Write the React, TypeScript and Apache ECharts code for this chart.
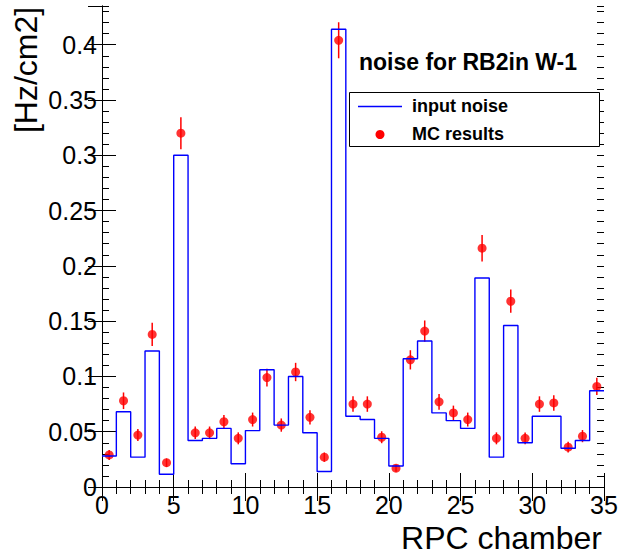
import React, { useEffect, useRef } from "react";
import * as echarts from "echarts";

const inputNoise = [0.028, 0.068, 0.027, 0.123, 0.0115, 0.300, 0.042, 0.044, 0.053, 0.021, 0.051, 0.106, 0.056, 0.100, 0.049, 0.014, 0.414, 0.064, 0.061, 0.044, 0.019, 0.116, 0.132, 0.067, 0.060, 0.053, 0.189, 0.027, 0.146, 0.040, 0.064, 0.064, 0.035, 0.042, 0.087];
const mcResults = [0.029, 0.078, 0.047, 0.138, 0.022, 0.320, 0.049, 0.049, 0.059, 0.044, 0.061, 0.099, 0.056, 0.104, 0.063, 0.027, 0.404, 0.075, 0.075, 0.045, 0.017, 0.115, 0.141, 0.077, 0.067, 0.061, 0.216, 0.044, 0.168, 0.044, 0.075, 0.076, 0.036, 0.046, 0.091];
const mcErrors = [0.0045, 0.0075, 0.0055, 0.0105, 0.0038, 0.0145, 0.0057, 0.0057, 0.0062, 0.0054, 0.0063, 0.008, 0.006, 0.0083, 0.0064, 0.0042, 0.0163, 0.007, 0.007, 0.0054, 0.0033, 0.0087, 0.0096, 0.0071, 0.0066, 0.0063, 0.012, 0.0054, 0.0105, 0.0054, 0.007, 0.007, 0.0049, 0.0055, 0.0077];

const titleText = "noise for RB2in W-1";
const xTitle = "RPC chamber";
const yTitle = "[Hz/cm2]";
const legendNames = ["input noise", "MC results"];

const FONT = '"Liberation Sans", Arial, Helvetica, sans-serif';

export default function App() {
  const ref = useRef<HTMLDivElement>(null);
  useEffect(() => {
    document.body.style.margin = "0";
    const chart = echarts.init(ref.current!, null, { renderer: "svg" });
    const stepData: number[][] = inputNoise.map((v, i) => [i, v]);
    stepData.push([inputNoise.length, inputNoise[inputNoise.length - 1]]);
    const pts = mcResults.map((v, i) => [i + 0.5, v]);
    const errData = mcResults.map((v, i) => [i + 0.5, v - mcErrors[i], v + mcErrors[i]]);

    const xCommon = {
      type: "value",
      min: 0,
      max: 35,
      interval: 5,
      splitLine: { show: false },
      axisLine: { show: true, lineStyle: { color: "#000", width: 1 } },
      axisTick: { show: true, inside: true, length: 14, lineStyle: { color: "#000" } },
      minorTick: { show: true, splitNumber: 5, length: 7, lineStyle: { color: "#000" } },
    };
    const yMain = {
      type: "value",
      min: 0,
      max: 0.435,
      interval: 0.05,
      splitLine: { show: false },
      axisLine: { show: true, lineStyle: { color: "#000", width: 1 } },
      axisTick: { show: true, inside: true, length: 14, lineStyle: { color: "#000" } },
    };
    const yMinor = {
      type: "value",
      min: 0,
      max: 0.435,
      interval: 0.01,
      splitLine: { show: false },
      axisLine: { show: false },
      axisLabel: { show: false },
      axisTick: { show: true, inside: true, length: 7, lineStyle: { color: "#000" } },
    };

    chart.setOption({
      animation: false,
      grid: { left: 102, right: 25, top: 6, bottom: 69, containLabel: false },
      xAxis: [
        {
          ...xCommon,
          position: "bottom",
          axisLabel: { show: true, color: "#000", fontSize: 25, fontFamily: FONT, margin: 5 },
        },
        { ...xCommon, position: "top", axisLabel: { show: false } },
      ],
      yAxis: [
        {
          ...yMain,
          position: "left",
          axisLabel: { show: true, color: "#000", fontSize: 25, fontFamily: FONT, margin: 5, showMaxLabel: false },
        },
        { ...yMain, position: "right", axisLabel: { show: false } },
        { ...yMinor, position: "left" },
        { ...yMinor, position: "right" },
      ],
      series: [
        {
          type: "line",
          name: legendNames[0],
          step: "end",
          data: stepData,
          showSymbol: false,
          symbol: "none",
          lineStyle: { color: "#0000ff", width: 1.4 },
          xAxisIndex: 0,
          yAxisIndex: 0,
        },
        {
          type: "custom",
          name: "errors",
          xAxisIndex: 0,
          yAxisIndex: 0,
          data: errData,
          renderItem: (params: any, api: any) => {
            const x = api.value(0);
            const p1 = api.coord([x, api.value(1)]);
            const p2 = api.coord([x, api.value(2)]);
            return {
              type: "line",
              shape: { x1: p1[0], y1: p1[1], x2: p2[0], y2: p2[1] },
              style: { stroke: "#ff0000", lineWidth: 1.5 },
            };
          },
        },
        {
          type: "scatter",
          name: legendNames[1],
          data: pts,
          symbol: "circle",
          symbolSize: 9,
          itemStyle: { color: "#ff0000" },
          xAxisIndex: 0,
          yAxisIndex: 0,
        },
      ],
      graphic: [
        {
          type: "text",
          x: 359,
          y: 62,
          style: {
            text: titleText,
            font: `bold 23px ${FONT}`,
            fill: "#000",
            textAlign: "left",
            textVerticalAlign: "middle",
          },
        },
        {
          type: "rect",
          shape: { x: 349.5, y: 92.5, width: 250, height: 54 },
          style: { fill: "#fff", stroke: "#000", lineWidth: 1 },
          z: 10,
        },
        {
          type: "line",
          shape: { x1: 358, y1: 106.5, x2: 402, y2: 106.5 },
          style: { stroke: "#0000ff", lineWidth: 1.4 },
          z: 11,
        },
        {
          type: "circle",
          shape: { cx: 380, cy: 134.5, r: 4.5 },
          style: { fill: "#ff0000" },
          z: 11,
        },
        {
          type: "text",
          x: 412,
          y: 106,
          z: 11,
          style: {
            text: legendNames[0],
            font: `bold 18px ${FONT}`,
            fill: "#000",
            textAlign: "left",
            textVerticalAlign: "middle",
          },
        },
        {
          type: "text",
          x: 412,
          y: 134,
          z: 11,
          style: {
            text: legendNames[1],
            font: `bold 18px ${FONT}`,
            fill: "#000",
            textAlign: "left",
            textVerticalAlign: "middle",
          },
        },
        {
          type: "text",
          x: 602,
          y: 538,
          style: {
            text: xTitle,
            font: `32px ${FONT}`,
            fill: "#000",
            textAlign: "right",
            textVerticalAlign: "middle",
          },
        },
        {
          type: "text",
          x: 26,
          y: 70,
          rotation: Math.PI / 2,
          style: {
            text: yTitle,
            font: `32px ${FONT}`,
            fill: "#000",
            textAlign: "center",
            textVerticalAlign: "middle",
          },
        },
      ],
    });
    return () => chart.dispose();
  }, []);
  return <div ref={ref} style={{ width: 629, height: 556 }} />;
}
